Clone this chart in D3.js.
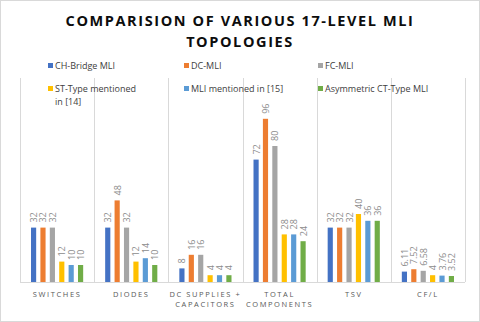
<!DOCTYPE html>
<html>
<head>
<meta charset="utf-8">
<script src="https://cdn.jsdelivr.net/npm/d3@7"></script>
<style>
  body { margin: 0; background: #fff; }
  text { font-family: "Open Sans", sans-serif; }
</style>
</head>
<body>
<div id="chart"></div>
<script>
var categories = [["SWITCHES"], ["DIODES"], ["DC SUPPLIES +", "CAPACITORS"], ["TOTAL", "COMPONENTS"], ["TSV"], ["CF/L"]];
var seriesNames = ["CH-Bridge MLI", "DC-MLI", "FC-MLI", "ST-Type mentioned in [14]", "MLI mentioned in [15]", "Asymmetric CT-Type MLI"];
var colors = ["#4472C4", "#ED7D31", "#A5A5A5", "#FFC000", "#5B9BD5", "#70AD47"];
var chBridge = [32, 32, 8, 72, 32, 6.11];
var dcMli = [32, 48, 16, 96, 32, 7.52];
var fcMli = [32, 32, 16, 80, 32, 6.58];
var stType = [12, 12, 4, 28, 40, 4];
var mli15 = [10, 14, 4, 28, 36, 3.76];
var asymCT = [10, 10, 4, 24, 36, 3.52];
var series = [chBridge, dcMli, fcMli, stType, mli15, asymCT];

var width = 480, height = 322;
var plot = { left: 20, right: 465, top: 78, bottom: 282 };

var svg = d3.select("#chart").append("svg")
    .attr("width", width)
    .attr("height", height);

svg.append("rect")
    .attr("x", 0.5).attr("y", 0.5)
    .attr("width", width - 1).attr("height", height - 1)
    .style("fill", "#fff").style("stroke", "#d9d9d9");

// title
var titleLines = ["COMPARISION OF VARIOUS 17-LEVEL MLI", "TOPOLOGIES"];
svg.selectAll(".title").data(titleLines).enter().append("text")
    .attr("class", "title")
    .attr("x", 240)
    .attr("y", function(d, i) { return 26 + i * 21; })
    .attr("text-anchor", "middle")
    .style("font-size", "14.5px")
    .style("font-weight", "bold")
    .style("letter-spacing", "1.6px")
    .style("fill", "#0d0d0d")
    .text(function(d) { return d; });

var x0 = d3.scaleBand().domain(d3.range(categories.length)).range([plot.left, plot.right]);
var x1 = d3.scaleBand().domain(d3.range(series.length)).range([11, x0.bandwidth() - 11]).paddingInner(0.45);
var y = d3.scaleLinear().domain([0, 120]).range([plot.bottom, plot.top]);

// separators
svg.selectAll(".sep").data(d3.range(categories.length + 1)).enter().append("line")
    .attr("x1", function(d) { return Math.round(plot.left + d * x0.step()) + 0.5; })
    .attr("x2", function(d) { return Math.round(plot.left + d * x0.step()) + 0.5; })
    .attr("y1", plot.top)
    .attr("y2", plot.bottom)
    .style("stroke", "#d9d9d9");

var groups = svg.selectAll(".grp").data(series).enter().append("g");

groups.selectAll("rect").data(function(d, si) { return d.map(function(v, ci) { return { v: v, si: si, ci: ci }; }); })
    .enter().append("rect")
    .attr("x", function(d) { return x0(d.ci) + x1(d.si); })
    .attr("y", function(d) { return y(d.v); })
    .attr("width", x1.bandwidth())
    .attr("height", function(d) { return plot.bottom - y(d.v); })
    .style("fill", function(d) { return colors[d.si]; });

groups.selectAll("text").data(function(d, si) { return d.map(function(v, ci) { return { v: v, si: si, ci: ci }; }); })
    .enter().append("text")
    .attr("transform", function(d) {
        var cx = x0(d.ci) + x1(d.si) + x1.bandwidth() / 2 + 3.5;
        return "translate(" + cx + "," + (y(d.v) - 5) + ") rotate(-90)";
    })
    .style("font-size", "9px")
    .style("fill", "#8c8c8c")
    .text(function(d) { return d.v; });

// baseline
svg.append("line")
    .attr("x1", plot.left).attr("x2", plot.right)
    .attr("y1", plot.bottom + 0.5).attr("y2", plot.bottom + 0.5)
    .style("stroke", "#d9d9d9");

// category labels
var catG = svg.selectAll(".cat").data(categories).enter().append("text")
    .attr("text-anchor", "middle")
    .style("font-size", "7.5px")
    .style("letter-spacing", "1.6px")
    .style("fill", "#595959");
catG.selectAll("tspan").data(function(d, i) { return d.map(function(t) { return { t: t, i: i }; }); })
    .enter().append("tspan")
    .attr("x", function(d) { return x0(d.i) + x0.bandwidth() / 2; })
    .attr("y", function(d, j) { return 297 + j * 10; })
    .text(function(d) { return d.t; });

// legend
var legendX = [48, 184, 318];
var legendLines = [["CH-Bridge MLI"], ["DC-MLI"], ["FC-MLI"], ["ST-Type mentioned", "in [14]"], ["MLI mentioned in [15]"], ["Asymmetric CT-Type MLI"]];
var legend = svg.selectAll(".leg").data(legendLines).enter().append("g")
    .attr("transform", function(d, i) { return "translate(" + legendX[i % 3] + "," + (i < 3 ? 66 : 89) + ")"; });
legend.append("rect")
    .attr("x", 0).attr("y", -3)
    .attr("width", 5).attr("height", 5)
    .style("fill", function(d, i) { return colors[i]; });
legend.append("text")
    .style("font-size", "9px")
    .style("fill", "#404040")
    .selectAll("tspan").data(function(d) { return d; }).enter().append("tspan")
    .attr("x", 7)
    .attr("y", function(d, j) { return 3 + j * 12.5; })
    .text(function(d) { return d; });
</script>
</body>
</html>
